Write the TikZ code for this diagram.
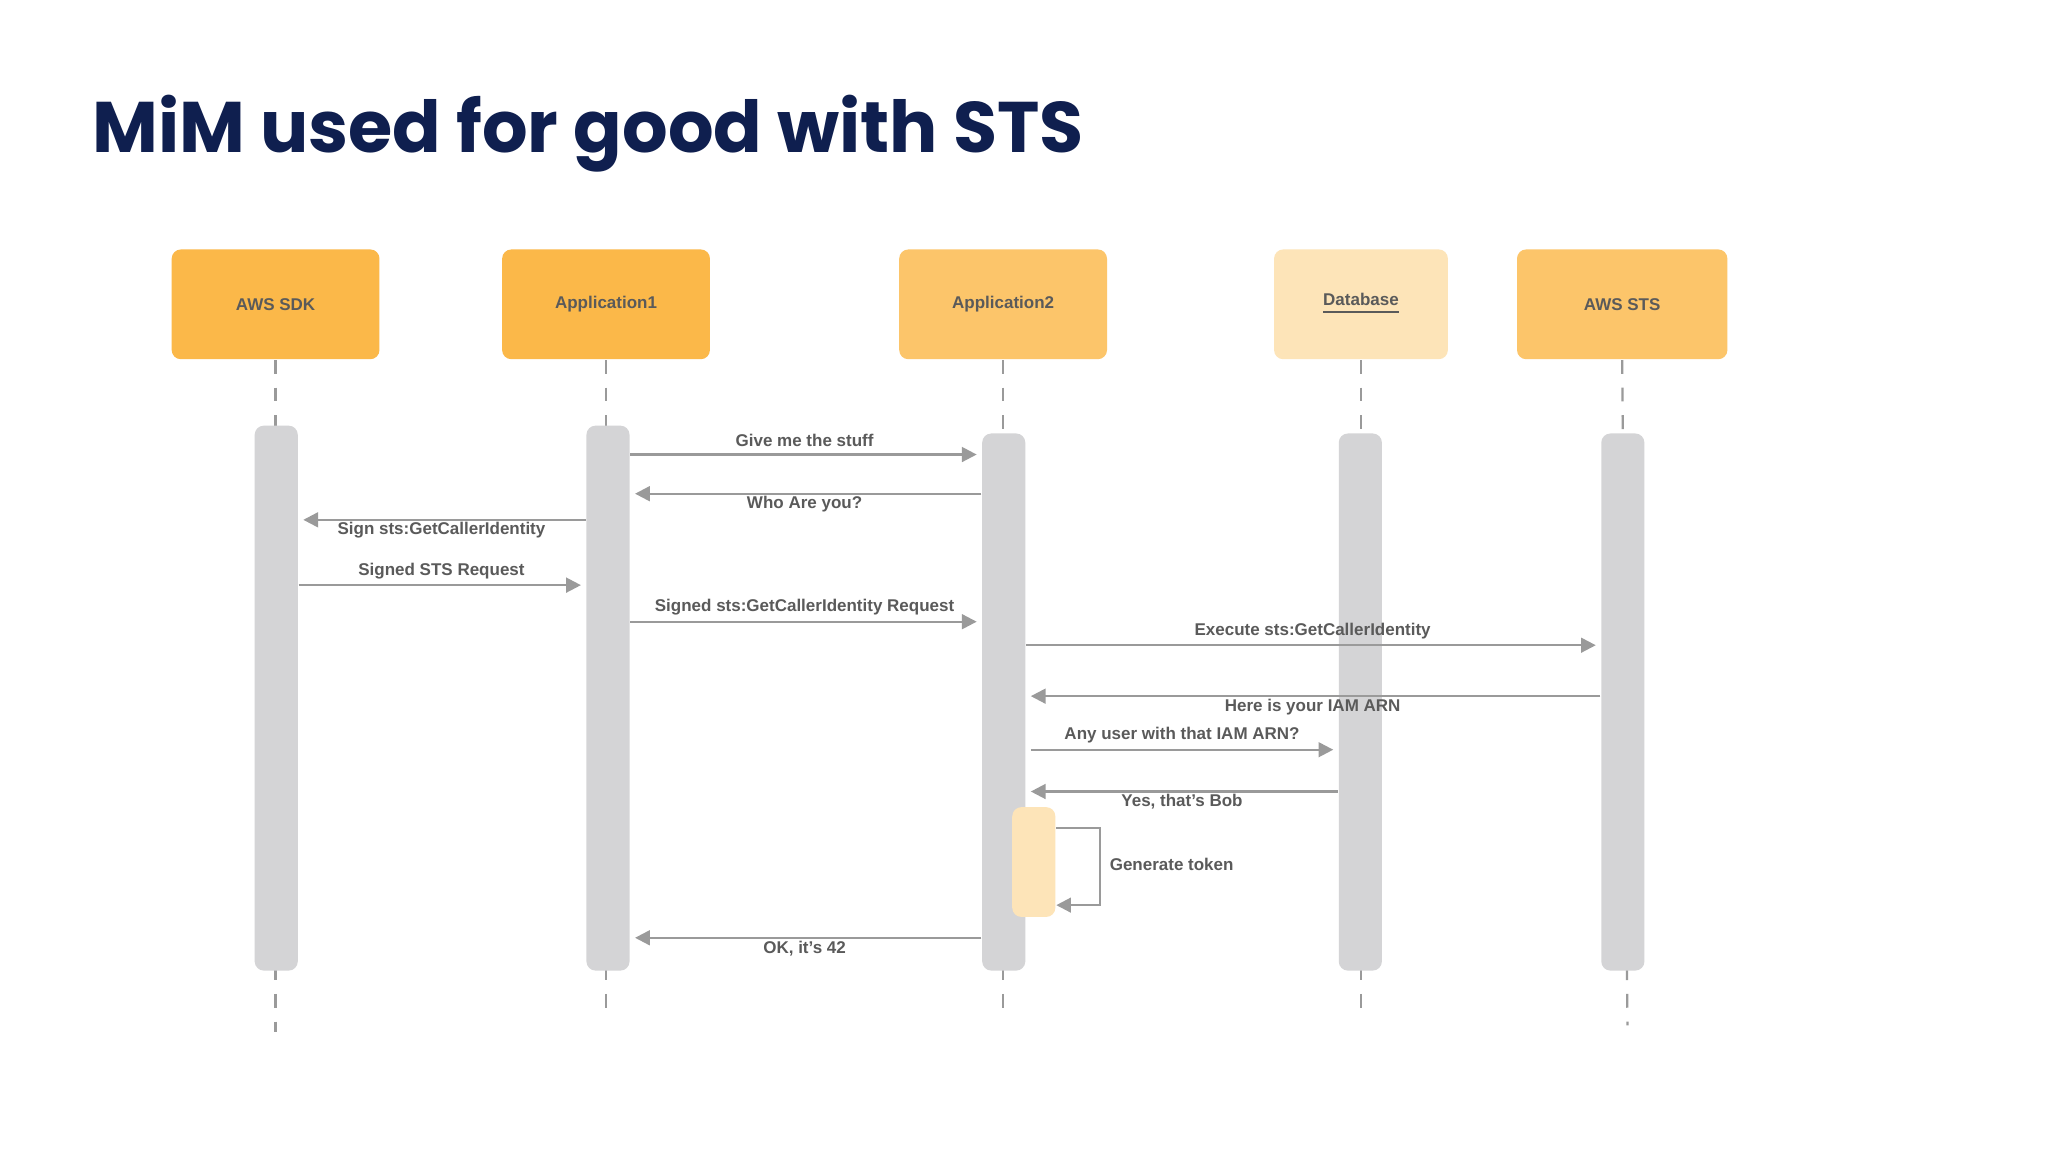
\documentclass[tikz,border=0pt]{standalone}
\usepackage{fontspec}
\setsansfont{Liberation Sans}
\newfontfamily\titlefont{Poppins}
\usetikzlibrary{arrows.meta}
\definecolor{navy}{HTML}{0F1F4F}
\definecolor{hdA}{HTML}{FBB849}
\definecolor{hdB}{HTML}{FCC56A}
\definecolor{hdC}{HTML}{FDE4B8}
\definecolor{barc}{HTML}{D4D4D6}
\definecolor{msgc}{HTML}{9A9A9A}
\definecolor{txtc}{HTML}{5A5A5A}
\tikzset{
  x=0.01cm,y=-0.01cm,
  hdr/.style={draw=none,rounded corners=2pt,minimum width=1.59cm,minimum height=0.84cm,font=\sffamily\bfseries\fontsize{3.7}{4}\selectfont,text=txtc},
  life/.style={draw=msgc,dashed,line width=0.5pt},
  bar/.style={fill=barc,rounded corners=2pt,draw=none},
  msg/.style={draw=msgc,line width=0.5pt,-{Triangle[length=3.2pt,width=3.2pt]}},
  lbl/.style={font=\sffamily\bfseries\fontsize{3.7}{4}\selectfont,text=txtc,inner sep=0pt}
}
\begin{document}
\begin{tikzpicture}
\fill[white] (0,0) rectangle (1568,882);
\node[anchor=base west,inner sep=0pt,text=navy,font=\titlefont\bfseries\fontsize{15.6}{18}\selectfont] (title) at (70,117) {MiM used for good with STS};
% headers
\node[hdr,fill=hdA] (h1) at (211,233) {AWS SDK};
\node[hdr,fill=hdA] (h2) at (464,233) {Application1};
\node[hdr,fill=hdB] (h3) at (768,233) {Application2};
\node[hdr,fill=hdC,minimum width=1.33cm] (h4) at (1042,233) {\underline{Database}};
\node[hdr,fill=hdB,minimum width=1.61cm] (h5) at (1242,233) {AWS STS};
% lifelines
\coordinate (e1) at (211,790); \coordinate (e2) at (464,775);
\coordinate (e3) at (768,775); \coordinate (e4) at (1042,775); \coordinate (e5) at (1246,785);
\draw[life] (h1.south) -- (e1);
\draw[life] (h2.south) -- (e2);
\draw[life] (h3.south) -- (e3);
\draw[life] (h4.south) -- (e4);
\draw[life] (h5.south) -- (e5);
% bars
\node[bar,minimum width=0.33cm,minimum height=4.17cm] (b1) at (211.5,534.5) {};
\node[bar,minimum width=0.33cm,minimum height=4.17cm] (b2) at (465.5,534.5) {};
\node[bar,minimum width=0.33cm,minimum height=4.11cm] (b3) at (768.5,537.5) {};
\node[bar,minimum width=0.33cm,minimum height=4.11cm] (b4) at (1041.5,537.5) {};
\node[bar,minimum width=0.33cm,minimum height=4.11cm] (b5) at (1242.5,537.5) {};
\node[fill=hdC,rounded corners=2pt,minimum width=0.33cm,minimum height=0.84cm] (act) at (791.5,660) {};
% messages
\draw[msg] (b2.east |- 0,348) -- ([xshift=-1pt]b3.west |- 0,348);
\node[lbl] (l1) at (616,337) {Give me the stuff};
\draw[msg] (b3.west |- 0,378) -- ([xshift=1pt]b2.east |- 0,378);
\node[lbl] (l2) at (616,386) {Who Are you?};
\draw[msg] (b2.west |- 0,398) -- ([xshift=1pt]b1.east |- 0,398);
\node[lbl] (l3) at (338,406) {Sign sts:GetCallerIdentity};
\draw[msg] (b1.east |- 0,448) -- ([xshift=-1pt]b2.west |- 0,448);
\node[lbl] (l4) at (338,437) {Signed STS Request};
\draw[msg] (b2.east |- 0,476) -- ([xshift=-1pt]b3.west |- 0,476);
\node[lbl] (l5) at (616,465) {Signed sts:GetCallerIdentity Request};
\draw[msg] (b3.east |- 0,494) -- ([xshift=-1pt]b5.west |- 0,494);
\node[lbl] (l6) at (1005,483) {Execute sts:GetCallerIdentity};
\draw[msg] (b5.west |- 0,533) -- ([xshift=1pt]b3.east |- 0,533);
\node[lbl] (l7) at (1005,541) {Here is your IAM ARN};
\draw[msg] ([xshift=1pt]b3.east |- 0,574) -- ([xshift=-1pt]b4.west |- 0,574);
\node[lbl] (l8) at (905,563) {Any user with that IAM ARN?};
\draw[msg] (b4.west |- 0,606) -- ([xshift=1pt]b3.east |- 0,606);
\node[lbl] (l9) at (905,614) {Yes, that's Bob};
\coordinate (s1) at (842,634); \coordinate (s2) at (842,693);
\draw[msg] (act.east |- 0,634) -- (s1) -- (s2) -- (act.east |- 0,693);
\node[lbl,anchor=west] (l10) at (849,662) {Generate token};
\draw[msg] (b3.west |- 0,718) -- ([xshift=1pt]b2.east |- 0,718);
\node[lbl] (l11) at (616,726) {OK, it's 42};
\end{tikzpicture}
\end{document}
